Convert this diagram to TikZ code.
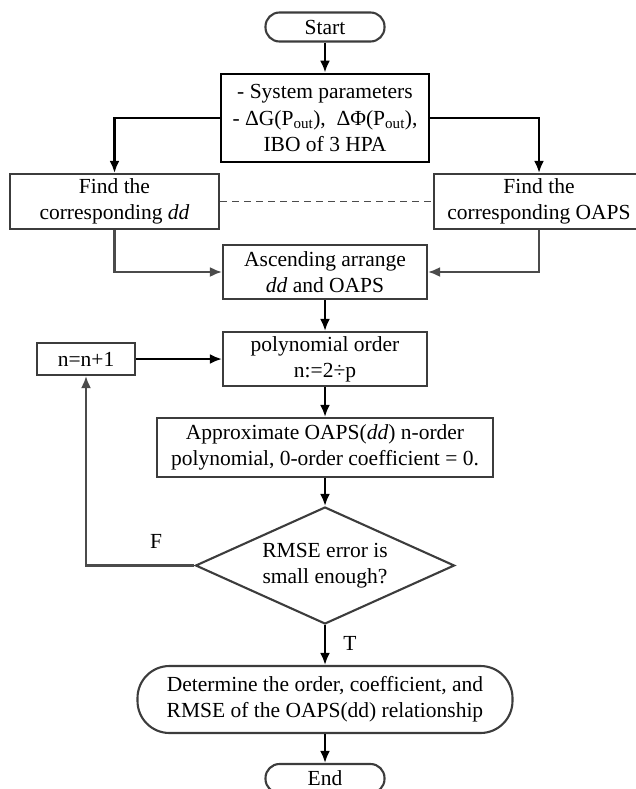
\documentclass[tikz,border=0pt]{standalone}
\usepackage{fontspec}
\setmainfont{Liberation Serif}
\usetikzlibrary{shapes.geometric,arrows.meta}
\definecolor{boxc}{RGB}{60,60,60}
\definecolor{linec}{RGB}{75,75,75}
\begin{document}
\begin{tikzpicture}[x=1pt,y=-1pt, font=\fontsize{21.5}{26}\selectfont,
  box/.style={draw=boxc, line width=2.1pt, rectangle, inner sep=0pt, align=center},
  term/.style={box, rounded corners=14pt},
  arr/.style={-{Latex[length=12pt,width=10pt]}, line width=2.5pt, black},
  garr/.style={-{Latex[length=12pt,width=10pt]}, line width=2.1pt, linec},
  gline/.style={line width=1.8pt, linec},
  lbl/.style={inner sep=0pt}]
\useasboundingbox (0,0) rectangle (635,789);
\node[term, minimum width=119pt, minimum height=29pt] (start) at (325,27) {Start};
\node[box, draw=black, line width=2.7pt, minimum width=208pt, minimum height=88pt] (params) at (325,118)
  {- System parameters\\[1pt] - ΔG(P\textsubscript{out}),\ \ ΔΦ(P\textsubscript{out}),\\ IBO of 3 HPA};
\node[box, minimum width=209pt, minimum height=55pt] (fdd) at (114.5,201.5) {Find the\\corresponding \textit{dd}};
\node[box, minimum width=210pt, minimum height=55pt] (fop) at (539,201.5) {Find the\\corresponding OAPS};
\node[box, minimum width=204pt, minimum height=54pt] (asc) at (325,272) {Ascending arrange\\\textit{dd} and OAPS};
\node[box, minimum width=204pt, minimum height=54pt] (poly) at (325,359) {polynomial order\\n:=2÷p};
\node[box, minimum width=98pt, minimum height=32pt] (nn) at (86,359) {n=n+1};
\node[box, minimum width=336pt, minimum height=59pt] (approx) at (325,447.5) {Approximate OAPS(\textit{dd}) n-order\\polynomial, 0-order coefficient = 0.};
\node[draw=boxc, line width=2.1pt, diamond, aspect=2.2, inner sep=0pt, minimum width=259pt, minimum height=117pt, align=center] (dec) at (325,565.5) {RMSE error is\\small enough?};
\node[term, rounded corners=32pt, minimum width=375pt, minimum height=67pt] (det) at (325,699.5) {Determine the order, coefficient, and\\RMSE of the OAPS(dd) relationship};
\node[term, minimum width=119pt, minimum height=29pt] (endn) at (325,778.5) {End};
\node[lbl] (fl) at (156,541) {F};
\node[lbl] (tl) at (350,643) {T};
\draw[arr] (start) -- (params);
\draw[arr] (params.west) -| (fdd.north);
\draw[arr] (params.east) -| (fop.north);
\draw[gline, dash pattern=on 7pt off 5pt] (fdd.east) -- (fop.west);
\draw[garr] (fdd.south) |- (asc.west);
\draw[garr] (fop.south) |- (asc.east);
\draw[arr] (asc) -- (poly);
\draw[arr] (nn) -- (poly);
\draw[arr] (poly) -- (approx);
\draw[arr] (approx) -- (dec);
\draw[garr] (dec.west) -| (nn.south);
\draw[arr] (dec) -- (det);
\draw[arr] (det) -- (endn);
\end{tikzpicture}
\end{document}
